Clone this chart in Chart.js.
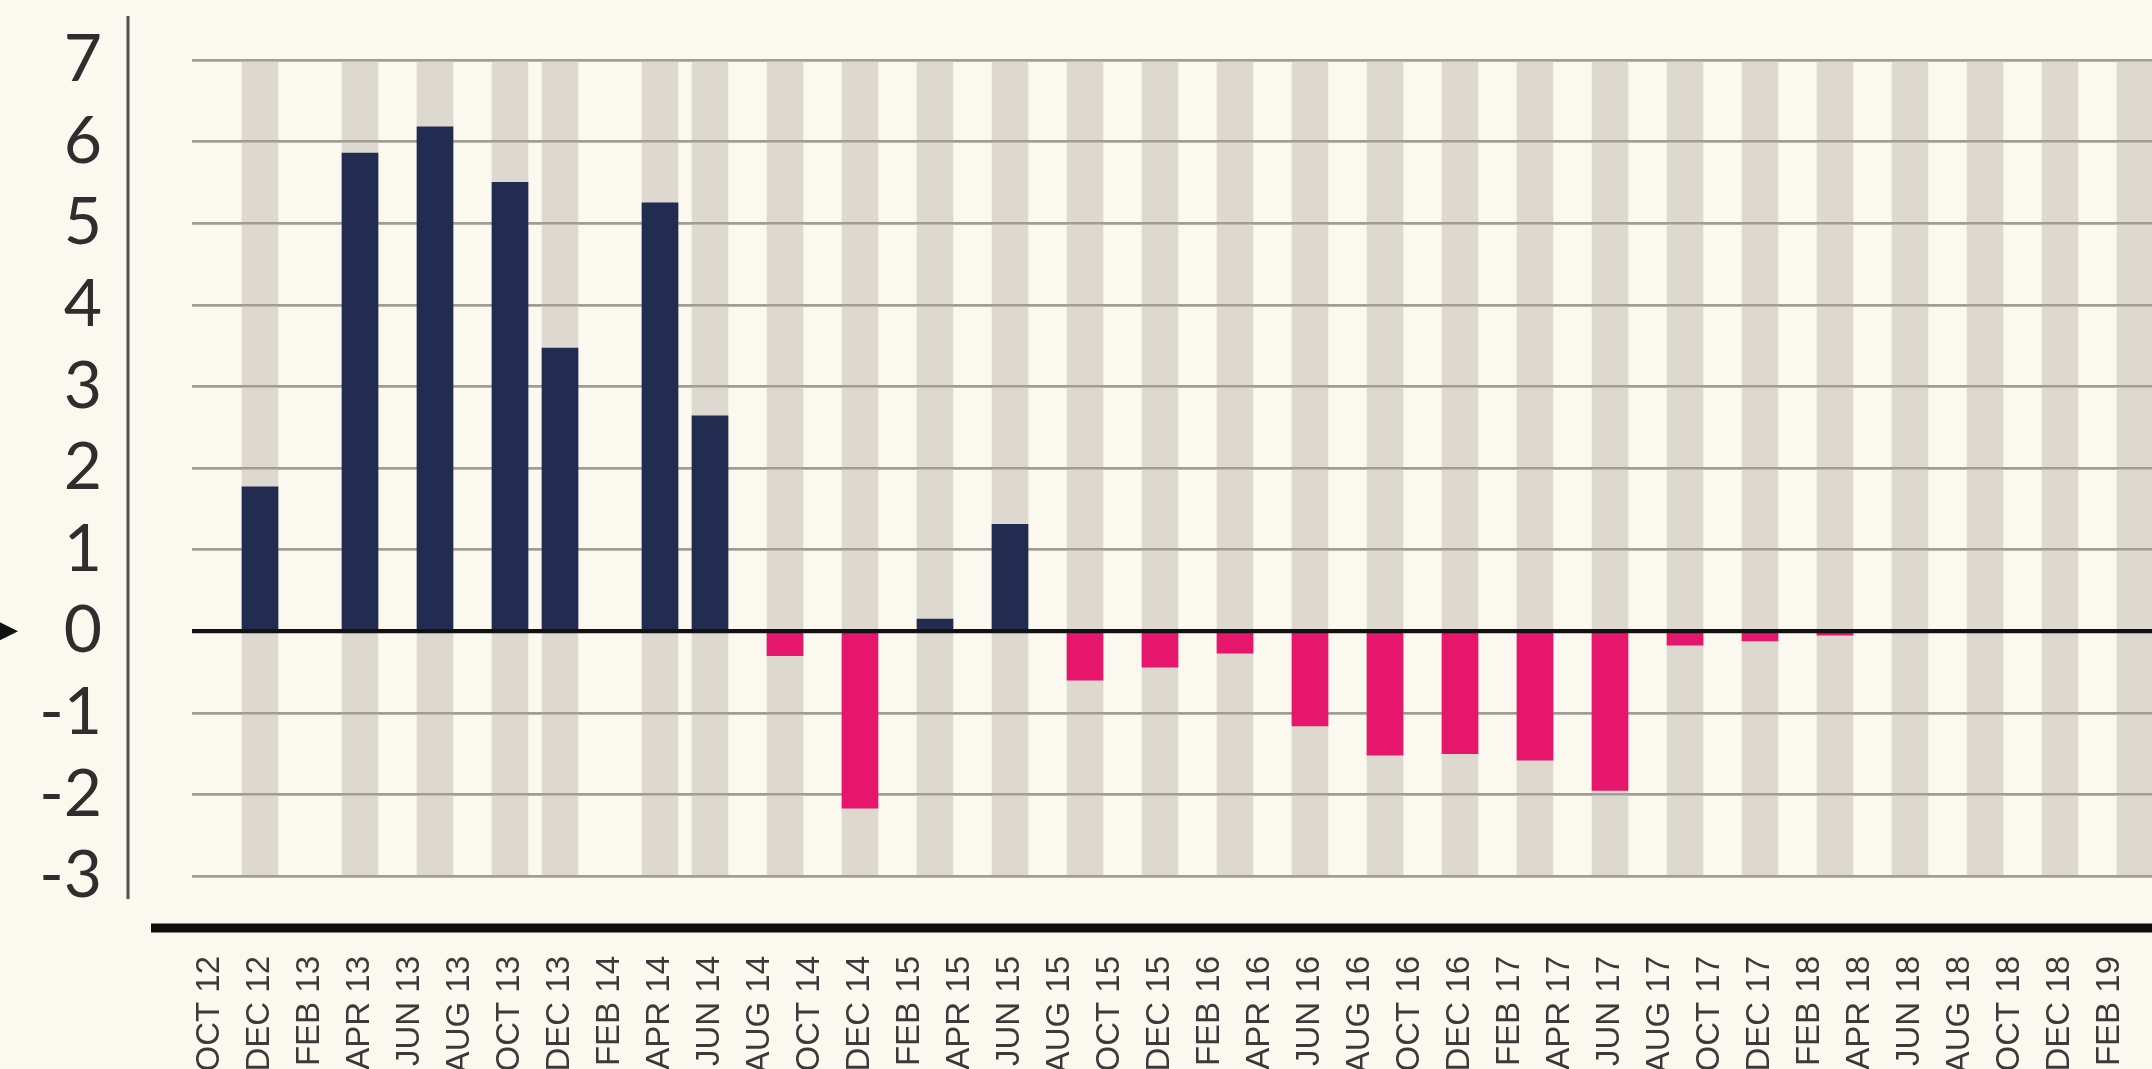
<!DOCTYPE html>
<html>
<head>
<meta charset="utf-8">
<title>Chart</title>
<script src="https://cdn.jsdelivr.net/npm/chart.js@4.4.1/dist/chart.umd.min.js"></script>
<style>
    html, body { margin: 0; padding: 0; background: #fbf9ef; }
    #wrap { width: 2152px; height: 1069px; position: relative; }
</style>
</head>
<body>
<div id="wrap"><canvas id="chart"></canvas></div>
<script>
// Tick labels along the bottom (every two months)
var tickLabels = ['OCT 12', 'DEC 12', 'FEB 13', 'APR 13', 'JUN 13', 'AUG 13', 'OCT 13', 'DEC 13',
    'FEB 14', 'APR 14', 'JUN 14', 'AUG 14', 'OCT 14', 'DEC 14', 'FEB 15', 'APR 15', 'JUN 15',
    'AUG 15', 'OCT 15', 'DEC 15', 'FEB 16', 'APR 16', 'JUN 16', 'AUG 16', 'OCT 16', 'DEC 16',
    'FEB 17', 'APR 17', 'JUN 17', 'AUG 17', 'OCT 17', 'DEC 17', 'FEB 18', 'APR 18', 'JUN 18',
    'AUG 18', 'OCT 18', 'DEC 18', 'FEB 19'];

// Periods that have a slot (grey stripe) and the value read for each
var periods = ['DEC 12', 'APR 13', 'JUL 13', 'OCT 13', 'DEC 13', 'APR 14', 'JUN 14', 'SEP 14',
    'DEC 14', 'MAR 15', 'JUN 15', 'SEP 15', 'DEC 15', 'MAR 16', 'JUN 16', 'SEP 16', 'DEC 16',
    'MAR 17', 'JUN 17', 'SEP 17', 'DEC 17', 'MAR 18', 'JUN 18', 'SEP 18', 'DEC 18', 'MAR 19'];
var values = [1.77, 5.86, 6.18, 5.5, 3.47, 5.25, 2.64, -0.3,
    -2.17, 0.15, 1.31, -0.6, -0.44, -0.27, -1.16, -1.52, -1.5,
    -1.58, -1.95, -0.17, -0.12, -0.05, null, null, null, null];

var yMin = -3;
var yMax = 7;

var NAVY = '#222b50';
var PINK = '#e5166c';
var STRIPE = '#ddd9d1';
var GRID = '#a29d94';

var MONTHS = ['JAN', 'FEB', 'MAR', 'APR', 'MAY', 'JUN', 'JUL', 'AUG', 'SEP', 'OCT', 'NOV', 'DEC'];

// months counted from OCT 12
function monthIndex(label) {
    var parts = label.split(' ');
    var m = MONTHS.indexOf(parts[0]);
    var y = 2000 + parseInt(parts[1], 10);
    return (y - 2012) * 12 + m - 9;
}

var stripeData = periods.map(function (p) {
    return {x: monthIndex(p), y: [yMin, yMax]};
});
var barData = periods.map(function (p, i) {
    return {x: monthIndex(p), y: values[i]};
});

// grid lines sit above the stripes but under the bars, zero line on top
var decorations = {
    id: 'decorations',
    afterDatasetDraw: function (chart, args) {
        if (args.index === 0) chart.scales.y.drawGrid(chart.chartArea);
    },
    afterDraw: function (chart) {
        var ctx = chart.ctx;
        var area = chart.chartArea;
        var y0 = chart.scales.y.getPixelForValue(0);
        ctx.save();
        ctx.strokeStyle = '#111';
        ctx.lineWidth = 4;
        ctx.beginPath();
        ctx.moveTo(area.left, y0);
        ctx.lineTo(area.right, y0);
        ctx.stroke();

        ctx.fillStyle = '#111';
        ctx.beginPath();
        ctx.moveTo(-6, y0 - 12);
        ctx.lineTo(18, y0);
        ctx.lineTo(-6, y0 + 12);
        ctx.closePath();
        ctx.fill();

        ctx.strokeStyle = '#5b4b50';
        ctx.lineWidth = 3;
        ctx.beginPath();
        ctx.moveTo(128, area.top - 44);
        ctx.lineTo(128, area.bottom + 23);
        ctx.stroke();

        ctx.strokeStyle = '#0d0d0d';
        ctx.lineWidth = 9;
        ctx.beginPath();
        ctx.moveTo(151, area.bottom + 52);
        ctx.lineTo(chart.width, area.bottom + 52);
        ctx.stroke();
        ctx.restore();
    }
};

var ctx = document.getElementById('chart').getContext('2d');
new Chart(ctx, {
    type: 'bar',
    data: {
        datasets: [{
            data: stripeData,
            backgroundColor: STRIPE,
            barThickness: 36,
            grouped: false,
            order: 2
        }, {
            data: barData,
            backgroundColor: function (c) {
                return c.raw && c.raw.y < 0 ? PINK : NAVY;
            },
            barThickness: 36,
            grouped: false,
            order: 1
        }]
    },
    options: {
        responsive: true,
        maintainAspectRatio: false,
        animation: false,
        layout: {padding: {top: 60, left: 0, right: 0, bottom: 0}},
        plugins: {
            legend: {display: false},
            tooltip: {enabled: false}
        },
        scales: {
            x: {
                type: 'linear',
                offset: false,
                min: -0.72,
                max: 77.68,
                grid: {display: false},
                border: {display: false},
                afterBuildTicks: function (scale) {
                    scale.ticks = tickLabels.map(function (l) {
                        return {value: monthIndex(l)};
                    });
                },
                afterFit: function (scale) {
                    scale.height = 193;
                    scale.paddingLeft = 0;
                    scale.paddingRight = 0;
                },
                ticks: {
                    autoSkip: false,
                    includeBounds: false,
                    minRotation: 90,
                    maxRotation: 90,
                    padding: 72,
                    color: '#3a3a3a',
                    font: {family: 'Liberation Sans', size: 33},
                    callback: function (value, index) {
                        return tickLabels[index];
                    }
                }
            },
            y: {
                min: yMin,
                max: yMax,
                border: {display: false},
                grid: {
                    drawTicks: false,
                    color: function (c) {
                        return c.tick.value === 0 ? '#111' : GRID;
                    },
                    lineWidth: function (c) {
                        return c.tick.value === 0 ? 4 : 2.5;
                    }
                },
                afterFit: function (scale) {
                    scale.width = 192;
                    scale.paddingTop = 0;
                    scale.paddingBottom = 0;
                },
                ticks: {
                    stepSize: 1,
                    autoSkip: false,
                    padding: 90,
                    color: '#2e2e2e',
                    font: {family: 'Lato', size: 66, weight: '400'}
                }
            }
        }
    },
    plugins: [decorations]
});
</script>
</body>
</html>
